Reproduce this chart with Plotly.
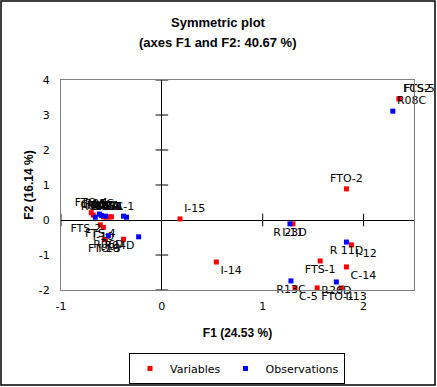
import plotly.graph_objects as go

# ---- data ----
var_names = ["FCS2", "FTS-5", "FTO-2", "I-15", "I-14", "I-11", "I-12", "FTS-1", "C-14",
             "C-5", "FTO-1", "I-13", "FTO-4", "C-13", "C-15", "FTS-3", "FCS1", "C-1",
             "FTS-4", "I-10", "FTS-2", "FTO-3", "I-16"]
var_x = [2.35, 2.36, 1.83, 0.18, 0.54, 1.30, 1.88, 1.57, 1.83,
         1.32, 1.54, 1.78, -0.70, -0.68, -0.58, -0.55, -0.52, -0.50,
         -0.61, -0.58, -0.56, -0.57, -0.38]
var_y = [3.46, 3.47, 0.89, 0.03, -1.20, -0.11, -0.71, -1.17, -1.34,
         -1.94, -1.94, -1.94, 0.21, 0.14, 0.09, 0.08, 0.09, 0.09,
         -0.14, -0.21, -0.55, -0.56, -0.55]
var_pos = ["top right", "top right", "top center", "top right", "bottom right", "bottom center",
           "bottom right", "bottom center", "bottom right", "bottom right", "bottom right",
           "bottom right", "top center", "top center", "top center", "top center", "top center",
           "top right", "bottom center", "bottom center", "top left", "bottom center", "bottom left"]

obs_names = ["R08C", "R 23D", "R 11D", "R13C", "R26D", "R01A", "R05C", "R06C", "R07A",
             "R02A", "R03A", "R04D", "R06D"]
obs_x = [2.29, 1.27, 1.83, 1.28, 1.73, -0.66, -0.62, -0.60, -0.56, -0.38, -0.35, -0.23, -0.53]
obs_y = [3.11, -0.11, -0.63, -1.74, -1.77, 0.08, 0.17, 0.13, 0.11, 0.11, 0.08, -0.48, -0.45]
obs_pos = ["top right", "bottom center", "bottom center", "bottom center", "bottom center",
           "top center", "top center", "top center", "top center", "top left", "top left",
           "bottom left", "bottom center"]

x_ticks = [-1, 0, 1, 2]
y_ticks = [-2, -1, 0, 1, 2, 3, 4]

title_lines = ["Symmetric plot", "(axes F1 and F2: 40.67 %)"]

label_font = dict(family="DejaVu Sans", size=11, color="black")

fig = go.Figure()

# cross ticks on the zero axes
fig.add_trace(go.Scatter(x=[t for t in x_ticks if t != 0], y=[0] * (len(x_ticks) - 1),
                         mode="markers", showlegend=False, hoverinfo="skip",
                         marker=dict(symbol="line-ns-open", size=9, color="black",
                                     line=dict(color="black", width=1))))
fig.add_trace(go.Scatter(x=[0] * (len(y_ticks) - 1), y=[t for t in y_ticks if t != 0],
                         mode="markers", showlegend=False, hoverinfo="skip",
                         marker=dict(symbol="line-ew-open", size=9, color="black",
                                     line=dict(color="black", width=1))))

fig.add_trace(go.Scatter(x=var_x, y=var_y, text=var_names, textposition=var_pos,
                         mode="markers+text", name="Variables", textfont=label_font,
                         cliponaxis=False,
                         marker=dict(symbol="square", size=5, color="#FF0000")))
fig.add_trace(go.Scatter(x=obs_x, y=obs_y, text=obs_names, textposition=obs_pos,
                         mode="markers+text", name="Observations", textfont=label_font,
                         cliponaxis=False,
                         marker=dict(symbol="square", size=5, color="#0000FF")))

W, H = 437, 387
ml, mr, mt, mb = 61, 23, 80, 97
pw, ph = W - ml - mr, H - mt - mb

title_font = dict(family="Liberation Sans", size=13, color="black", weight="bold")
annotations = [
    dict(text=title_lines[0], xref="paper", yref="paper", x=(218 - ml) / pw, y=1 + (mt - 22) / ph,
         xanchor="center", yanchor="middle", showarrow=False, font=title_font),
    dict(text=title_lines[1], xref="paper", yref="paper", x=(218 - ml) / pw, y=1 + (mt - 43) / ph,
         xanchor="center", yanchor="middle", showarrow=False, font=title_font),
]

fig.update_layout(
    width=W, height=H,
    margin=dict(l=ml, r=mr, t=mt, b=mb, autoexpand=False),
    paper_bgcolor="white", plot_bgcolor="white",
    annotations=annotations,
    xaxis=dict(range=[-1, 2.5], tickvals=x_ticks, ticktext=[str(t) for t in x_ticks],
               automargin=False,
               showgrid=False, zeroline=True, zerolinecolor="black", zerolinewidth=1,
               showline=True, linecolor="#808080", linewidth=1, mirror=True,
               ticks="", ticklabelstandoff=6,
               tickfont=dict(family="DejaVu Sans", size=11, color="black"),
               title=dict(text="F1 (24.53 %)", standoff=16,
                          font=dict(family="Liberation Sans", size=12, color="black", weight="bold"))),
    yaxis=dict(range=[-2, 4], tickvals=y_ticks, ticktext=[str(t) for t in y_ticks],
               automargin=False,
               showgrid=False, zeroline=True, zerolinecolor="black", zerolinewidth=1,
               showline=True, linecolor="#808080", linewidth=1, mirror=True,
               ticks="", ticklabelstandoff=8,
               tickfont=dict(family="DejaVu Sans", size=11, color="black"),
               title=dict(text="F2 (16.14 %)", standoff=2,
                          font=dict(family="Liberation Sans", size=12, color="black", weight="bold"))),
    legend=dict(orientation="h", x=(237 - ml) / pw, xanchor="center", y=-(353 - (mt + ph)) / ph,
                yanchor="top",
                bordercolor="black", borderwidth=1, bgcolor="white",
                font=dict(family="DejaVu Sans", size=11, color="black"),
                itemwidth=30, tracegroupgap=0),
    shapes=[dict(type="rect", xref="paper", yref="paper",
                 x0=(1 - ml) / pw, x1=(W - 2 - ml) / pw,
                 y0=-(H - 2 - mt - ph) / ph, y1=1 + (mt - 1) / ph,
                 line=dict(color="black", width=1.5))],
)

fig.write_html("out.html", config={"displayModeBar": False},
               post_script="document.body.style.margin='0px';document.body.style.overflow='hidden';")
